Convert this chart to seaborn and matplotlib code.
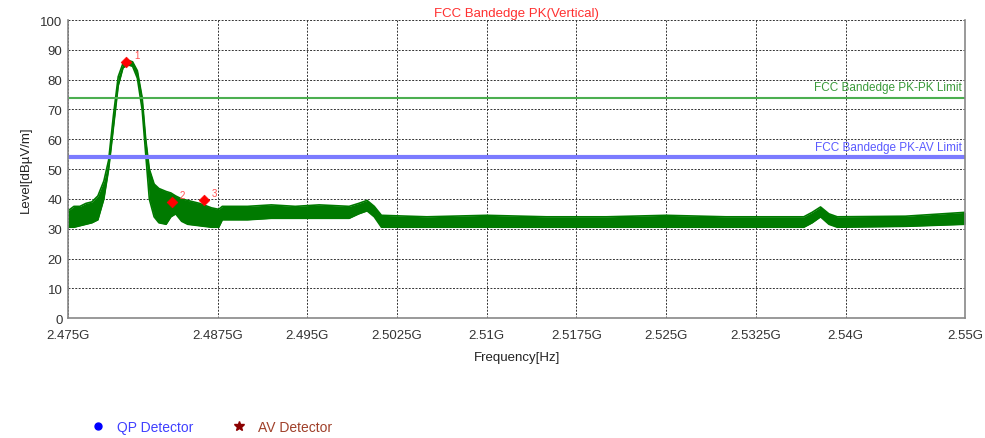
import numpy as np
import pandas as pd
import seaborn as sns
import matplotlib.pyplot as plt
from matplotlib.lines import Line2D

# trace envelope (GHz, dBuV/m)
freq = [2.4750, 2.4755, 2.4760, 2.4765, 2.4770, 2.4775, 2.4780, 2.4784, 2.4788,
        2.4792, 2.4796, 2.4800, 2.4804, 2.4808, 2.4812, 2.4815, 2.4818, 2.4822,
        2.4826, 2.4832, 2.4836, 2.4840, 2.4845, 2.4850, 2.4860, 2.4870, 2.4876,
        2.4879, 2.4885, 2.4900, 2.4920, 2.4940, 2.4960, 2.4985, 2.4993, 2.5000,
        2.5006, 2.5012, 2.5050, 2.5100, 2.5150, 2.5200, 2.5250, 2.5300, 2.5365,
        2.5372, 2.5379, 2.5386, 2.5393, 2.5450, 2.5500]
upper = [36.0, 37.5, 37.5, 38.5, 39.0, 41.0, 46.0, 53.0, 68.0,
         81.0, 85.5, 86.5, 86.0, 83.0, 74.0, 60.0, 50.0, 45.0,
         43.5, 42.5, 42.0, 41.0, 40.0, 39.5, 38.5, 37.0, 36.5,
         37.5, 37.5, 37.5, 38.0, 37.5, 38.0, 37.5, 38.5, 39.5,
         37.5, 34.5, 34.0, 34.5, 34.0, 34.0, 34.5, 34.0, 34.0,
         35.5, 37.3, 35.0, 34.0, 34.2, 35.5]
lower = [30.5, 30.5, 31.0, 31.5, 32.0, 33.0, 40.0, 50.0, 64.0,
         78.0, 84.0, 85.0, 84.5, 80.5, 70.0, 55.0, 40.0, 34.0,
         32.0, 31.5, 34.0, 35.0, 32.5, 31.5, 31.0, 30.5, 30.5,
         33.0, 33.0, 33.0, 33.5, 33.5, 33.5, 33.5, 35.0, 36.0,
         34.0, 30.5, 30.5, 30.5, 30.5, 30.5, 30.5, 30.5, 30.5,
         32.0, 34.0, 31.5, 30.5, 30.8, 31.5]

# markers
mark_freq = [2.47983, 2.48367, 2.48633]
mark_level = [85.8, 39.0, 39.6]
mark_id = ["1", "2", "3"]

# limits
pk_limit = 74
av_limit = 54

xticks = [2.475, 2.4875, 2.495, 2.5025, 2.51, 2.5175, 2.525, 2.5325, 2.54, 2.55]
xtick_labels = ["2.475G", "2.4875G", "2.495G", "2.5025G", "2.51G", "2.5175G",
                "2.525G", "2.5325G", "2.54G", "2.55G"]

sns.set_style("white")
plt.rcParams['font.family'] = ['Liberation Sans', 'DejaVu Sans']

fig = plt.figure(figsize=(9.85, 4.39), dpi=100)
ax = fig.add_axes([0.069, 0.273, 0.911, 0.679])

df = pd.DataFrame({"freq": freq, "upper": upper, "lower": lower})
ax.fill_between(df["freq"], df["lower"], df["upper"], color="#007a00", lw=0)
sns.lineplot(data=df, x="freq", y="upper", ax=ax, color="#007a00", lw=1.2)
sns.lineplot(data=df, x="freq", y="lower", ax=ax, color="#007a00", lw=1.2)

# limit lines
lim = pd.DataFrame({"freq": [2.475, 2.55, 2.475, 2.55],
                    "level": [pk_limit, pk_limit, av_limit, av_limit],
                    "name": ["pk", "pk", "av", "av"]})
sns.lineplot(data=lim[lim.name == "pk"], x="freq", y="level", ax=ax,
             color="#4caf50", lw=1.5)
sns.lineplot(data=lim[lim.name == "av"], x="freq", y="level", ax=ax,
             color="#7b7bff", lw=3)
ax.text(2.5497, pk_limit + 1.5, "FCC Bandedge PK-PK Limit", color="#3a9a3a",
        fontsize=8.5, ha="right", va="bottom")
ax.text(2.5497, av_limit + 1.5, "FCC Bandedge PK-AV Limit", color="#5a5aff",
        fontsize=8.5, ha="right", va="bottom")

# markers
mk = pd.DataFrame({"freq": mark_freq, "level": mark_level})
sns.scatterplot(data=mk, x="freq", y="level", ax=ax, color="red", marker="D",
                s=30, edgecolor="red", zorder=5)
for f, l, t in zip(mark_freq, mark_level, mark_id):
    ax.annotate(t, (f, l), xytext=(6, 3), textcoords="offset points",
                color="#ff5050", fontsize=7)

ax.set_xlim(2.475, 2.55)
ax.set_ylim(0, 100)
ax.set_xticks(xticks)
ax.set_xticklabels(xtick_labels)
ax.set_yticks(range(0, 101, 10))
ax.tick_params(labelsize=9.5, colors="#333333", length=0)
ax.tick_params(axis="x", pad=8)
ax.tick_params(axis="y", pad=4)
ax.grid(True, color="#333333", linestyle=(0, (2, 1.5)), lw=0.7)
for s in ["left", "bottom", "right"]:
    ax.spines[s].set_color("#888888")
    ax.spines[s].set_linewidth(1.2)
ax.spines["top"].set_visible(False)

ax.set_xlabel("Frequency[Hz]", fontsize=9.5, color="#222222", labelpad=7)
ax.set_ylabel("Level[dBµV/m]", fontsize=9.5, color="#222222", labelpad=6)
ax.set_title("FCC Bandedge PK(Vertical)", color="#ff3030", fontsize=9.5, pad=3)

handles = [Line2D([], [], marker="o", color="blue", ls="", markersize=5),
           Line2D([], [], marker="*", color="#8b0000", ls="", markersize=7)]
leg = fig.legend(handles, ["QP Detector", "AV Detector"], loc="center left",
                 bbox_to_anchor=(0.08, 0.025), ncol=2, frameon=False, fontsize=10,
                 handlelength=1.0, columnspacing=2.8, handletextpad=0.85)
for txt, c in zip(leg.get_texts(), ["#4040ff", "#a0402a"]):
    txt.set_color(c)

fig.savefig("out.png", dpi=100)
